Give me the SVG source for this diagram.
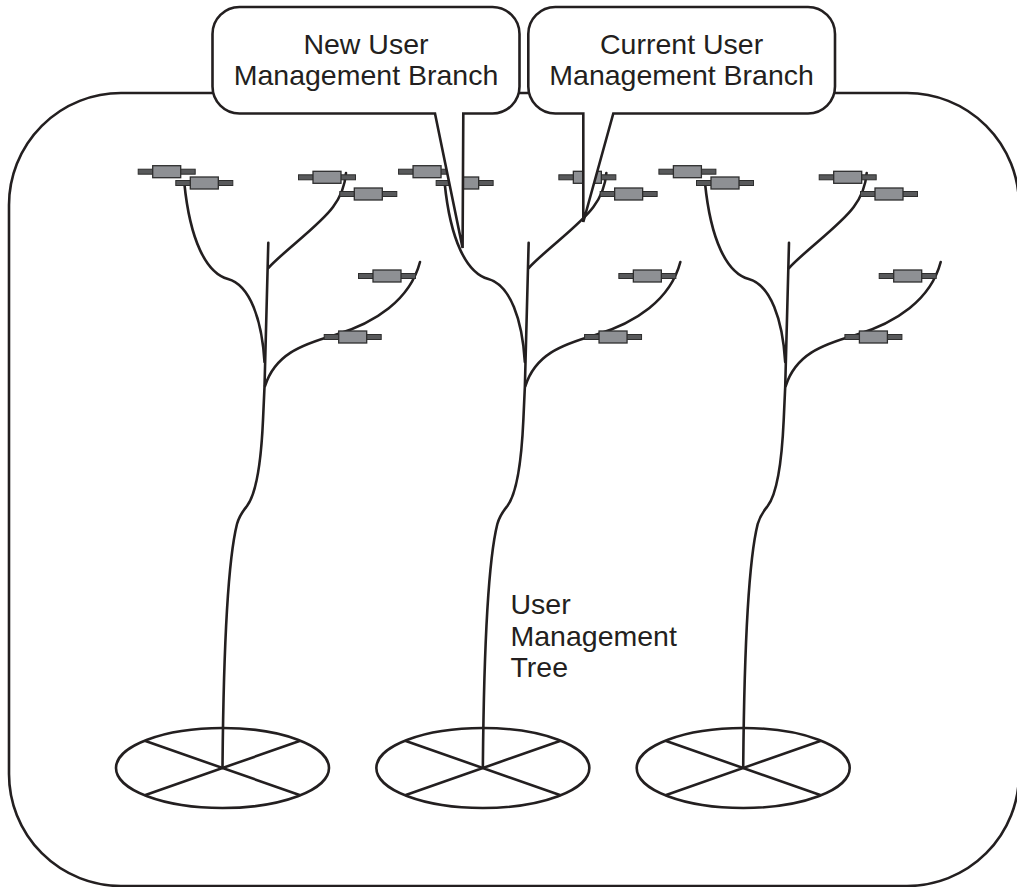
<svg xmlns="http://www.w3.org/2000/svg" xmlns:xlink="http://www.w3.org/1999/xlink" width="1017" height="887" viewBox="0 0 1017 887">
  <style>
    .ink { fill: none; stroke: #231f20; stroke-width: 2.6; stroke-linecap: round; stroke-linejoin: round; }
    .bubble { fill: #ffffff; stroke: #231f20; stroke-width: 2.6; stroke-linejoin: miter; }
    .label { font-family: "Liberation Sans", Arial, sans-serif; font-size: 28.5px; fill: #231f20; }
    .bar { fill: #58595b; stroke: #2e2e2e; stroke-width: 1; }
    .body { fill: #8e9094; stroke: #2e2e2e; stroke-width: 1.3; }
  </style>
  <defs>
    <!-- small resistor-like leaf component -->
    <g id="leaf">
      <rect class="bar" x="-28.5" y="-2.5" width="57" height="5"/>
      <rect class="body" x="-14" y="-6" width="28" height="12"/>
    </g>
    <!-- one tree: base disc, trunk, branches and leaves -->
    <g id="tree">
      <ellipse class="ink" cx="222.5" cy="768" rx="106.5" ry="40"/>
      <path class="ink" d="M145.5,741 L299.5,795 M145.5,795 L299.5,741"/>
      <!-- trunk -->
      <path class="ink" d="M222.5,768 C223.5,650 228,560 237,524 C239.5,515 243,511 247,506 C256,494 261,465 263,420 L264.5,387 L268.3,242.7"/>
      <!-- left branch -->
      <path class="ink" d="M264.5,362 C262,320 250,285 228,279 C206,273 190,240 184.3,183"/>
      <!-- upper right branch -->
      <path class="ink" d="M268.3,268 C285,250 320,225 333,207 C342,195 345,185 346,173"/>
      <!-- lower right branch -->
      <path class="ink" d="M265,386 C275,355 300,345 335,335 C375,323 410,300 420,262"/>
      <use xlink:href="#leaf" x="166.7" y="171.7"/>
      <use xlink:href="#leaf" x="204.3" y="183"/>
      <use xlink:href="#leaf" x="327" y="177.3"/>
      <use xlink:href="#leaf" x="368.3" y="194"/>
      <use xlink:href="#leaf" x="387" y="276"/>
      <use xlink:href="#leaf" x="352.7" y="337"/>
    </g>
  </defs>

  <rect width="1017" height="887" fill="#ffffff"/>

  <!-- enclosing domain -->
  <g id="domain">
    <rect class="ink" x="9" y="93" width="1010" height="793" rx="112" ry="112"/>
  </g>

  <g id="tree-1">
    <use xlink:href="#tree"/>
  </g>
  <g id="tree-2">
    <use xlink:href="#tree" transform="translate(260.35,0)"/>
  </g>
  <g id="tree-3">
    <use xlink:href="#tree" transform="translate(520.7,0)"/>
  </g>

  <g id="tree-label">
    <text class="label" x="510.5" y="614">User</text>
    <text class="label" x="510.5" y="645.5">Management</text>
    <text class="label" x="510.5" y="677">Tree</text>
  </g>

  <!-- callouts; the pointer is part of each bubble outline -->
  <g id="callout-new">
    <path class="bubble" d="M239.5,7 H492.5 A27,27 0 0 1 519.5,34 V86.5 A27,27 0 0 1 492.5,113.5 H463.3 L462.6,248 L435,113.5 H239.5 A27,27 0 0 1 212.5,86.5 V34 A27,27 0 0 1 239.5,7 Z"/>
    <text class="label" x="366" y="54" text-anchor="middle">New User</text>
    <text class="label" x="366" y="85" text-anchor="middle">Management Branch</text>
  </g>
  <g id="callout-current">
    <path class="bubble" d="M555.3,7 H808 A27,27 0 0 1 835,34 V86.5 A27,27 0 0 1 808,113.5 H613.3 L583.3,222 V113.5 H555.3 A27,27 0 0 1 528.3,86.5 V34 A27,27 0 0 1 555.3,7 Z"/>
    <text class="label" x="681.6" y="54" text-anchor="middle">Current User</text>
    <text class="label" x="681.6" y="85" text-anchor="middle">Management Branch</text>
  </g>
</svg>
